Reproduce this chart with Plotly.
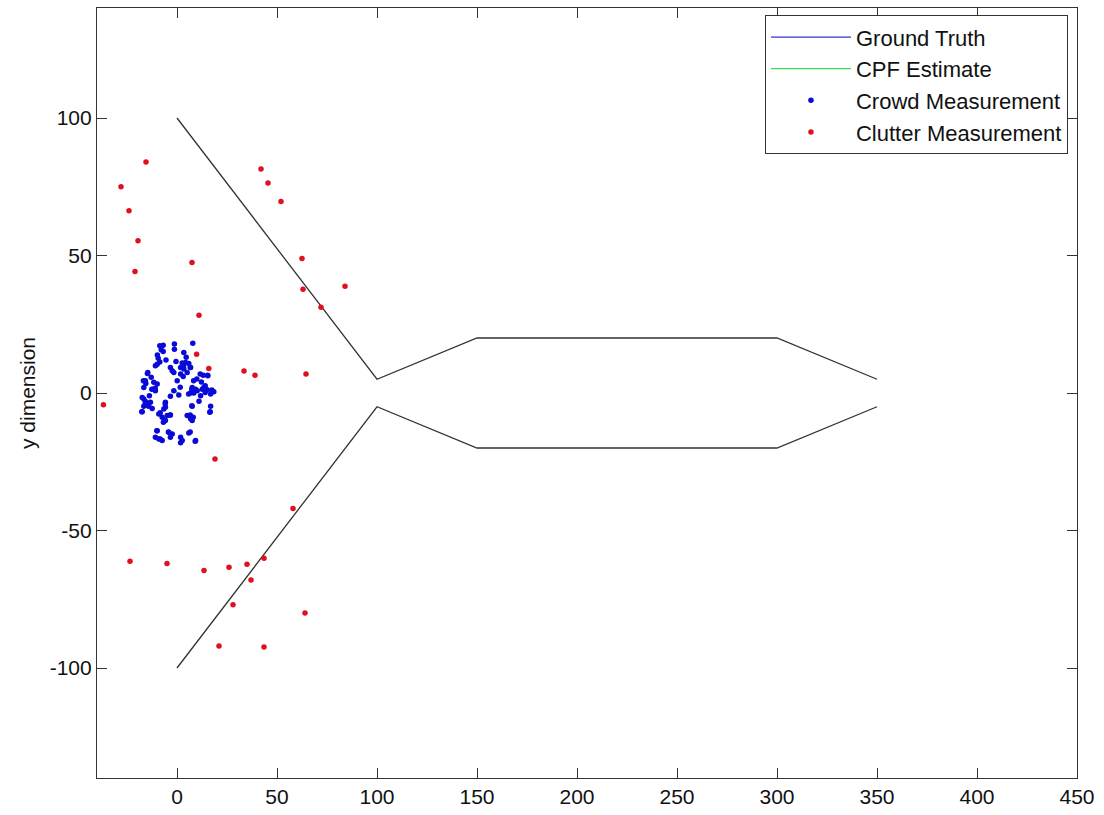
import plotly.graph_objects as go

# Corridor walls (black, not in legend)
upper_wall_x = [0, 100, 150, 300, 350]
upper_wall_y = [100, 5, 20, 20, 5]
lower_wall_x = [0, 100, 150, 300, 350]
lower_wall_y = [-100, -5, -20, -20, -5]

# Ground truth and CPF estimate (short tracks at the origin, mostly hidden)
truth_x = [0.0, 0.8]
truth_y = [0.0, -0.5]
cpf_x = [-1.2, 0.5, 1.2]
cpf_y = [1.5, 0.0, -1.0]

# Crowd measurements (blue)
crowd_x = [-8.6, -6.9, -7.9, -6.9, -1.3, -1.3, 7.9, 3.4, -9.4, -8.6, -9.9, -10.8,
           -3.3, -2.4, -1.6, 2.6, 4.3, 5.9, 1.8, 3.4, 6.8, 5.1, 13.1, 15.4,
           -14.6, -12.9, -15.8, -11.6, -9.9, 1.8, 3.1, 0.1, -16.6, -11.6, -10.8, -1.6,
           0.9, 7.6, 9.3, 10.1, 6.8, 8.4, 12.6, 13.4, 15.1, 16.8, 18.4, 11.8,
           -3.3, -17.4, -16.6, -15.8, -14.9, -14.1, -16.6, -17.4, -13.3, -12.4, -5.8, -5.8,
           -6.6, 7.6, 16.8, 16.4, -9.1, -7.4, -5.8, -4.9, -3.3, 5.1, 6.8, 8.1,
           7.6, -9.9, -10.8, -9.1, -7.4, -4.1, -2.4, -3.3, 1.8, 2.6, 1.8, 5.9,
           9.3, -9.8, -5.5, 4.6, -0.5, 11.0, -13.8, 12.2,
           3.3, 6.6, 11.6, 15.3, -14.8, -16.8, -15.6, 8.3, 9.9, -12.6, -10.9, 1.6,
           14.1, 7.4, 17.4, -15.9, -14.3, -17.6, -5.9, 7.4, 16.6, -8.4, -3.4, -6.8,
           6.6, -10.1, -4.3, 6.6, -8.4, 9.1, 5.8, 14.1]
crowd_y = [17.2, 17.4, 15.7, 15.1, 17.8, 15.9, 18.1, 14.7, 12.6, 11.3, 10.5, 9.9,
           9.3, 8.1, 7.5, 10.9, 11.1, 10.7, 9.3, 8.7, 9.3, 7.5, 6.5, 6.3,
           7.5, 5.7, 4.5, 3.9, 3.3, 6.9, 6.0, 4.5, 2.0, 1.4, 0.8, 0.8,
           -0.7, 2.0, 1.4, 0.8, 0.0, 0.0, 1.4, 2.0, 1.2, -0.4, 0.5, -1.0,
           -1.2, -1.6, -2.2, -3.1, -4.0, -4.8, -4.8, -6.8, -3.4, -5.6, -3.4, -5.2,
           -5.8, -4.8, -4.8, -7.0, -7.6, -8.8, -10.0, -8.2, -8.0, -8.2, -9.4, -8.8,
           -10.0, -13.7, -16.1, -16.7, -17.3, -14.3, -14.9, -16.1, -16.1, -17.3, -18.1, -14.5,
           -17.3, 13.8, 12.0, 13.0, 11.5, -3.0, -1.0, 4.0,
           9.8, 9.3, 6.9, 6.5, 7.1, 4.5, 3.5, 4.5, 5.1, 1.4, 1.7, 2.1,
           2.6, 1.4, 1.1, -4.0, -4.6, -6.8, -4.0, -4.6, -6.8, -7.2, -8.0, -10.6,
           -8.0, -13.7, -14.2, -14.2, -16.7, -17.5, -0.4, 0.2]

# Clutter measurements (red)
clutter_x = [-36.8, -28, -15.5, -24, -19.5, -21, 7.5, 11, 42, 45.5, 52, 62.5,
             63, 72, 84, 33.5, 39, 64.5, 19, 58, -23.5, -5, 13.5, 26,
             35, 43.5, 37, 28, 64, 21, 43.5, 9.8, 15.9]
clutter_y = [-4.3, 75, 84, 66.3, 55.4, 44.2, 47.5, 28.3, 81.5, 76.4, 69.6, 48.9,
             37.7, 31.2, 38.8, 8, 6.5, 6.9, -24, -42, -61.2, -62, -64.5, -63.4,
             -62.3, -60.1, -68, -77, -80, -92, -92.4, 14.1, 8.9]

x_ticks = [0, 50, 100, 150, 200, 250, 300, 350, 400, 450]
x_labels = ["0", "50", "100", "150", "200", "250", "300", "350", "400", "450"]
y_ticks = [-100, -50, 0, 50, 100]
y_labels = ["-100", "-50", "0", "50", "100"]

FONT = "Liberation Sans, Arial, sans-serif"

fig = go.Figure()

fig.add_trace(go.Scatter(
    x=upper_wall_x + [None] + lower_wall_x,
    y=upper_wall_y + [None] + lower_wall_y,
    mode="lines", line=dict(color="#333333", width=1.3),
    showlegend=False, hoverinfo="skip"))

fig.add_trace(go.Scatter(
    x=truth_x, y=truth_y, mode="lines", name="Ground Truth",
    line=dict(color="#3535d0", width=1.2)))

fig.add_trace(go.Scatter(
    x=cpf_x, y=cpf_y, mode="lines", name="CPF Estimate",
    line=dict(color="#33dd55", width=1.2)))

fig.add_trace(go.Scatter(
    x=crowd_x, y=crowd_y, mode="markers", name="Crowd Measurement",
    marker=dict(color="#0a0ad8", size=5.5, symbol="circle")))

fig.add_trace(go.Scatter(
    x=clutter_x, y=clutter_y, mode="markers", name="Clutter Measurement",
    marker=dict(color="#e0101e", size=5.5, symbol="circle")))

axis_common = dict(
    showline=True, linecolor="#333333", linewidth=1.2, mirror="ticks",
    ticks="inside", ticklen=10, tickcolor="#333333", tickwidth=1.2,
    showgrid=False, zeroline=False,
    tickfont=dict(family=FONT, size=21, color="#111111"),
)

fig.update_xaxes(range=[-40, 450], tickvals=x_ticks, ticktext=x_labels, **axis_common)
fig.update_yaxes(range=[-140, 140], tickvals=y_ticks, ticktext=y_labels,
                 title=dict(text="y dimension", font=dict(family=FONT, size=21, color="#111111"),
                            standoff=8),
                 **axis_common)

fig.update_layout(
    width=1104, height=815,
    margin=dict(l=97, r=27, t=7, b=33),
    paper_bgcolor="white", plot_bgcolor="white",
    font=dict(family=FONT, color="#111111"),
    legend=dict(
        x=0.6816, y=0.9905, xanchor="left", yanchor="top",
        bgcolor="white", bordercolor="#333333", borderwidth=1,
        font=dict(family=FONT, size=22, color="#111111"),
        itemwidth=80, tracegroupgap=0,
    ),
)

fig.write_html("out.html")
